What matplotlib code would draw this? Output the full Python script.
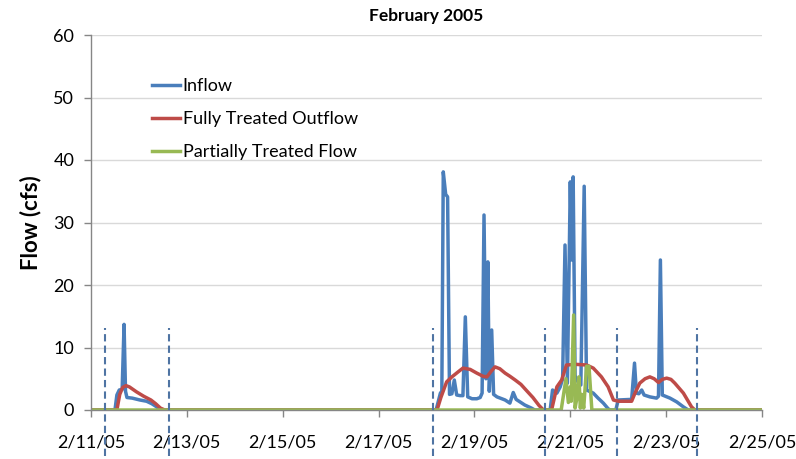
import matplotlib
matplotlib.use("Agg")
import matplotlib.pyplot as plt

plt.rcParams['font.family'] = ['Lato', 'DejaVu Sans']

# time in days after 2/11/05 00:00
inflow_t = [0.0, 0.50, 0.54, 0.59, 0.65, 0.69, 0.72, 0.75, 0.86, 1.02, 1.16, 1.27, 1.37, 1.44,
            7.20, 7.25, 7.29, 7.32, 7.35, 7.40, 7.44, 7.48, 7.53, 7.58, 7.63, 7.70, 7.76, 7.81,
            7.86, 7.95, 8.05, 8.12, 8.16, 8.20, 8.24, 8.28, 8.31, 8.36, 8.40, 8.47, 8.64, 8.74,
            8.81, 8.87, 9.05, 9.19, 9.26,
            9.58, 9.63, 9.72, 9.79, 9.84, 9.89, 9.94, 10.00, 10.03, 10.06, 10.10, 10.16, 10.22,
            10.29, 10.34, 10.48, 10.58, 10.69, 10.79, 10.83,
            10.95, 11.00, 11.28, 11.34, 11.38, 11.43, 11.49, 11.54, 11.66, 11.80, 11.84, 11.88,
            11.92, 12.08, 12.22, 12.36, 12.46, 14.0]
inflow_v = [0, 0, 2.4, 3.2, 3.3, 13.7, 3.0, 2.0, 1.9, 1.6, 1.4, 1.0, 0.5, 0,
            0, 1.5, 2.7, 3.0, 38.1, 34.5, 34.1, 2.5, 2.6, 4.8, 2.4, 2.3, 2.3, 14.9,
            2.1, 1.8, 1.8, 2.0, 2.7, 31.2, 5.0, 23.7, 3.0, 12.8, 2.5, 2.1, 1.6, 1.1,
            2.8, 1.7, 0.8, 0.3, 0,
            0, 3.2, 2.7, 3.7, 5.0, 26.4, 4.3, 36.5, 24.0, 37.3, 5.5, 4.5, 4.0,
            35.8, 3.2, 2.7, 1.9, 1.1, 0.2, 0,
            0, 1.6, 1.7, 7.5, 2.7, 2.6, 3.2, 2.4, 2.1, 1.9, 2.2, 24.0,
            2.4, 1.9, 1.3, 0.5, 0, 0]

full_t = [0.0, 0.54, 0.60, 0.66, 0.73, 0.80, 0.95, 1.10, 1.25, 1.35, 1.45, 1.54,
          7.22, 7.30, 7.42, 7.53, 7.66, 7.76, 7.91, 8.05, 8.18, 8.26, 8.35, 8.43, 8.53, 8.64,
          8.74, 8.85, 8.97, 9.10, 9.22, 9.35, 9.44,
          9.61, 9.72, 9.82, 9.92, 10.12, 10.34, 10.48, 10.65, 10.79, 10.90, 11.00, 11.28,
          11.35, 11.45, 11.56, 11.66, 11.75, 11.84, 11.92, 12.01, 12.10, 12.18, 12.36, 12.53,
          12.60, 14.0]
full_v = [0, 0, 2.5, 3.6, 3.9, 3.7, 2.9, 2.2, 1.6, 1.0, 0.3, 0,
          0, 2.0, 4.5, 5.3, 6.1, 6.7, 6.5, 5.9, 5.4, 5.3, 6.2, 6.9, 6.6, 5.9,
          5.4, 4.8, 4.1, 3.0, 2.0, 0.7, 0,
          0, 3.7, 4.8, 7.2, 7.3, 7.2, 6.7, 5.3, 3.7, 1.6, 1.4, 1.4,
          2.7, 4.3, 5.0, 5.3, 5.0, 4.4, 4.9, 5.1, 4.9, 4.3, 2.7, 0.5,
          0, 0]

partial_t = [0.0, 9.81, 9.86, 9.91, 9.96, 10.00, 10.02, 10.07, 10.10, 10.14, 10.18, 10.21,
             10.24, 10.28, 10.34, 10.39, 10.45, 14.0]
partial_v = [0, 0, 2.5, 5.0, 1.2, 3.7, 1.4, 15.2, 0.3, 2.0, 5.3, 0.3,
             2.5, 0.3, 7.0, 7.0, 0, 0]

event_t = [0.29, 1.63, 7.14, 9.47, 10.97, 12.64]

xtick_t = [0, 2, 4, 6, 8, 10, 12, 14]
xtick_labels = ['2/11/05', '2/13/05', '2/15/05', '2/17/05', '2/19/05', '2/21/05',
                '2/23/05', '2/25/05']
ytick_v = [0, 10, 20, 30, 40, 50, 60]

fig = plt.figure(figsize=(7.96, 4.59), dpi=100)
ax = fig.add_axes([91/796, 1 - 410/459, (762 - 91)/796, (410 - 35)/459])

ax.set_xlim(0, 14)
ax.set_ylim(0, 60)

ax.set_yticks(ytick_v)
ax.set_yticklabels([str(v) for v in ytick_v])
ax.set_xticks(xtick_t)
ax.set_xticklabels(xtick_labels)

ax.grid(axis='y', color='#D9D9D9', lw=1.0)
ax.set_axisbelow(True)
for s in ['top', 'right']:
    ax.spines[s].set_visible(False)
for s in ['left', 'bottom']:
    ax.spines[s].set_color('#868686')
    ax.spines[s].set_linewidth(1.0)
ax.tick_params(axis='both', colors='#868686', labelcolor='black', labelsize=13,
               length=5, width=1.0, direction='out')
ax.tick_params(axis='x', pad=13)
ax.tick_params(axis='y', pad=7)

lw = 2.5
ax.plot(inflow_t, inflow_v, color='#4A7EBB', lw=lw, label='Inflow', solid_joinstyle='round')
ax.plot(full_t, full_v, color='#BE4B48', lw=lw, label='Fully Treated Outflow', solid_joinstyle='round')
ax.plot(partial_t, partial_v, color='#98B954', lw=lw, label='Partially Treated Flow', solid_joinstyle='round')

ax.vlines(event_t, -7.4, 13.1, colors='#4F74A3', linestyles=(0, (3.5, 2)), lw=1.5,
          clip_on=False, zorder=5)

ax.set_title('February 2005', fontsize=12.5, fontweight='bold', pad=10)
ax.set_ylabel('Flow (cfs)', fontsize=16, fontweight='bold', labelpad=9)

leg = ax.legend(loc='upper left', bbox_to_anchor=(0.0909, 0.885), frameon=False,
                fontsize=13, handlelength=1.55, handletextpad=0.15,
                labelspacing=0.95, borderpad=0, borderaxespad=0)

fig.savefig('out.png', dpi=100)
